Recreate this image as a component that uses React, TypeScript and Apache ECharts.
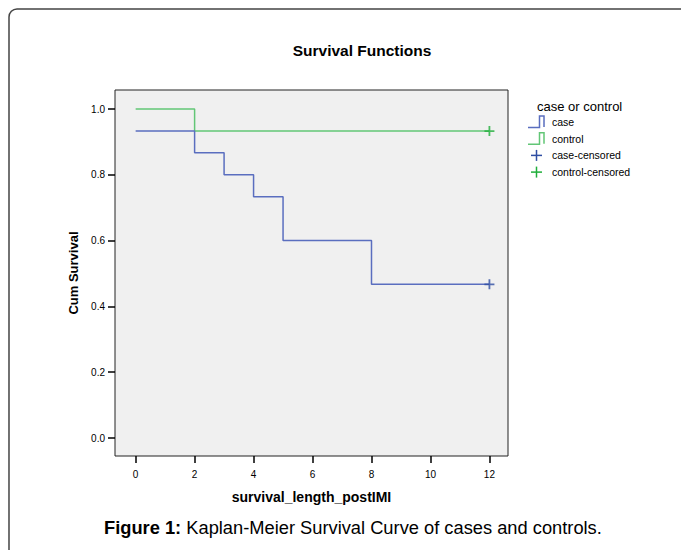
import React, { useEffect, useRef } from "react";
import * as echarts from "echarts";

const caseTimes = [0, 2, 3, 4, 5, 8, 12];
const caseSurvival = [0.933, 0.867, 0.8, 0.733, 0.6, 0.467, 0.467];
const controlTimes = [0, 2, 12];
const controlSurvival = [1.0, 0.933, 0.933];
const caseCensored = [[12, 0.467]];
const controlCensored = [[12, 0.933]];
const xTicks = [0, 2, 4, 6, 8, 10, 12];
const yTicks = [0, 0.2, 0.4, 0.6, 0.8, 1.0];
const legendNames = ["case", "control", "case-censored", "control-censored"];
const legendColors = ["#5a6ebf", "#62c676", "#2f4ea3", "#1fae3a"];

const FONT = "'Liberation Sans', Arial, sans-serif";
const plusIcon = "path://M4.5,0h2v11h-2z M0,4.5h11v2h-11z";

export default function App() {
  const ref = useRef<HTMLDivElement>(null);
  useEffect(() => {
    if (!ref.current) return;
    const chart = echarts.init(ref.current, undefined, { renderer: "svg" });
    const caseData = caseTimes.map((t, i) => [t, caseSurvival[i]]);
    const controlData = controlTimes.map((t, i) => [t, controlSurvival[i]]);

    const legendGraphics: any[] = [];
    const lx = 528;
    const rowY = [122, 138.7, 155.4, 172.1];
    legendNames.forEach((name, i) => {
      const cy = rowY[i];
      const color = legendColors[i];
      if (i < 2) {
        legendGraphics.push({
          type: "polyline",
          shape: {
            points: [
              [lx, cy + 5.5],
              [lx + 11.5, cy + 5.5],
              [lx + 11.5, cy - 6],
              [lx + 16, cy - 6],
              [lx + 16, cy + 5],
            ],
          },
          style: { stroke: color, lineWidth: 1.5, fill: "none" },
          silent: true,
        });
      } else {
        legendGraphics.push(
          {
            type: "line",
            shape: { x1: lx + 3, y1: cy, x2: lx + 14, y2: cy },
            style: { stroke: color, lineWidth: 1.5 },
            silent: true,
          },
          {
            type: "line",
            shape: { x1: lx + 8.5, y1: cy - 5.5, x2: lx + 8.5, y2: cy + 5.5 },
            style: { stroke: color, lineWidth: 1.5 },
            silent: true,
          }
        );
      }
      legendGraphics.push({
        type: "text",
        x: 552,
        y: cy,
        style: {
          text: name,
          fontSize: 10.5,
          fontFamily: FONT,
          fill: "#000",
          verticalAlign: "middle",
        },
        silent: true,
      });
    });

    chart.setOption({
      animation: false,
      backgroundColor: "#ffffff",
      title: {
        text: "Survival Functions",
        left: 357,
        top: 37,
        textAlign: "center",
        textStyle: { fontSize: 15.5, fontWeight: "bold", color: "#000", fontFamily: FONT },
      },
      grid: {
        left: 115,
        top: 90,
        width: 393,
        height: 366,
        show: true,
        backgroundColor: "#f0f0f0",
        borderColor: "#222",
        borderWidth: 1,
        containLabel: false,
      },
      xAxis: {
        type: "value",
        min: -0.7,
        max: 12.63,
        name: "survival_length_postIMI",
        nameLocation: "middle",
        nameGap: 34,
        nameTextStyle: { fontSize: 14, fontWeight: "bold", color: "#000", fontFamily: FONT },
        axisLine: { show: false, onZero: false },
        splitLine: { show: false },
        axisTick: { show: true, length: 7, lineStyle: { color: "#000", width: 1.5 }, customValues: xTicks },
        axisLabel: { fontSize: 10, color: "#000", fontFamily: FONT, margin: 13, customValues: xTicks },
      },
      yAxis: {
        type: "value",
        min: -0.0547,
        max: 1.0578,
        name: "Cum Survival",
        nameLocation: "middle",
        nameGap: 33,
        nameRotate: 90,
        nameTextStyle: { fontSize: 13, fontWeight: "bold", color: "#000", fontFamily: FONT },
        axisLine: { show: false, onZero: false },
        splitLine: { show: false },
        axisTick: { show: true, length: 7, lineStyle: { color: "#000", width: 1.5 }, customValues: yTicks },
        axisLabel: {
          fontSize: 10,
          color: "#000",
          fontFamily: FONT,
          margin: 10,
          customValues: yTicks,
          formatter: (v: number) => v.toFixed(1),
        },
      },
      graphic: [
        {
          type: "rect",
          shape: { x: 9, y: 9, width: 720, height: 600, r: 8 },
          style: { fill: "none", stroke: "#444", lineWidth: 1.5 },
          silent: true,
          z: -1,
        },
        {
          type: "text",
          x: 537,
          y: 106,
          style: {
            text: "case or control",
            fontSize: 13,
            fontFamily: FONT,
            fill: "#000",
            verticalAlign: "middle",
          },
        },
        ...legendGraphics,
        {
          type: "text",
          x: 104,
          y: 527,
          style: {
            text: "{b|Figure 1:} Kaplan-Meier Survival Curve of cases and controls.",
            fontSize: 18.3,
            fontFamily: FONT,
            fill: "#000",
            verticalAlign: "middle",
            rich: {
              b: { fontWeight: "bold", fontSize: 18.3, fontFamily: FONT, fill: "#000" },
            },
          },
        },
      ],
      series: [
        {
          name: "case",
          type: "line",
          step: "end",
          data: caseData,
          symbol: "none",
          color: legendColors[0],
          lineStyle: { width: 1.5, color: legendColors[0] },
          z: 3,
        },
        {
          name: "control",
          type: "line",
          step: "end",
          data: controlData,
          symbol: "none",
          color: legendColors[1],
          lineStyle: { width: 1.5, color: legendColors[1] },
          z: 2,
        },
        {
          name: "case-censored",
          type: "scatter",
          data: caseCensored,
          symbol: plusIcon,
          symbolSize: 10,
          itemStyle: { color: legendColors[2] },
          z: 4,
        },
        {
          name: "control-censored",
          type: "scatter",
          data: controlCensored,
          symbol: plusIcon,
          symbolSize: 10,
          itemStyle: { color: legendColors[3] },
          z: 4,
        },
      ],
    });
    return () => chart.dispose();
  }, []);
  return (
    <div
      ref={ref}
      style={{ position: "fixed", left: 0, top: 0, width: 681, height: 550 }}
    />
  );
}
